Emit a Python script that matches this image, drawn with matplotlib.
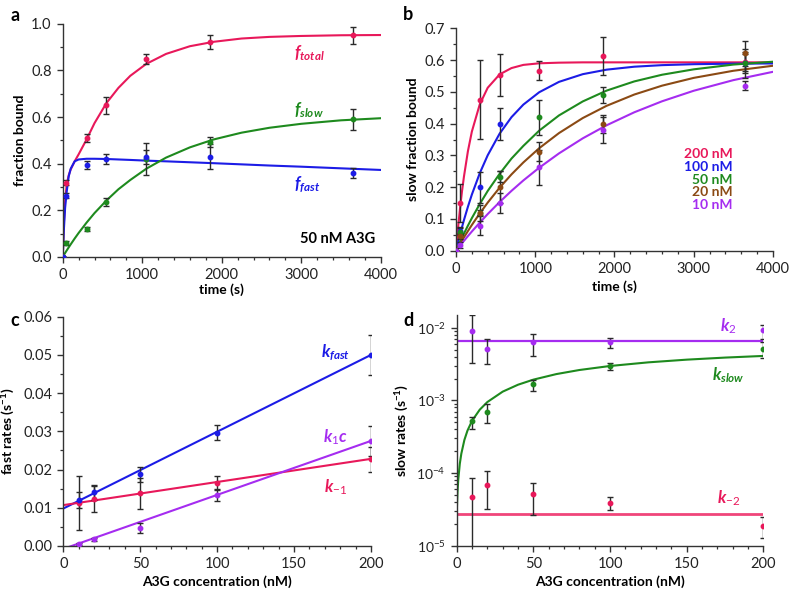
# Kinetics of A3G binding: fraction bound vs time and fitted rates vs concentration

import numpy as np
import matplotlib
matplotlib.use("Agg")
from matplotlib import pyplot as plt
from matplotlib.ticker import MultipleLocator, LogLocator, NullFormatter, FormatStrFormatter

plt.rcParams["font.family"] = ["Lato", "DejaVu Sans"]
plt.rcParams["mathtext.fontset"] = "custom"
plt.rcParams["mathtext.rm"] = "Lato"
plt.rcParams["mathtext.it"] = "Lato:italic:bold"
plt.rcParams["mathtext.bf"] = "Lato:bold"

RED = "#e8185a"
BLUE = "#1c1ce6"
GREEN = "#1e8a1e"
BROWN = "#8b4a14"
PURPLE = "#a52cf0"
PINK = "#f0457a"
ERR = "#2a2a2a"

# ---------------- panel a: 50 nM A3G ----------------
t_pts = [0, 45, 300, 540, 1050, 1850, 3650]
a_total = [0, 0.318, 0.510, 0.650, 0.850, 0.920, 0.950]
a_total_err = [0, 0.010, 0.019, 0.036, 0.022, 0.030, 0.038]
a_fast = [0, 0.262, 0.393, 0.420, 0.430, 0.430, 0.360]
a_fast_err = [0, 0.010, 0.017, 0.020, 0.030, 0.053, 0.022]
a_slow = [0, 0.060, 0.119, 0.235, 0.420, 0.493, 0.590]
a_slow_err = [0, 0.010, 0.008, 0.018, 0.067, 0.020, 0.046]

# fitted curves
t_fit = [0, 15, 30, 50, 75, 100, 150, 200, 300, 400, 550, 700, 850, 1050,
         1300, 1600, 1900, 2250, 2600, 3000, 3500, 4000]
fit_total = [0, 0.15, 0.24, 0.31, 0.35, 0.375, 0.41, 0.44, 0.504, 0.574, 0.66,
             0.725, 0.777, 0.828, 0.871, 0.904, 0.923, 0.937, 0.944, 0.948, 0.951, 0.952]
fit_fast = [0, 0.12, 0.21, 0.28, 0.345, 0.378, 0.41, 0.418, 0.421, 0.421, 0.420,
            0.418, 0.416, 0.413, 0.410, 0.406, 0.402, 0.397, 0.392, 0.387, 0.380, 0.373]
fit_slow = [0, 0.0084, 0.0166, 0.0275, 0.0407, 0.0536, 0.0787, 0.1026, 0.147, 0.188,
            0.242, 0.290, 0.330, 0.378, 0.426, 0.470, 0.504, 0.533, 0.554, 0.571, 0.586, 0.595]

# ---------------- panel b: slow fraction at several concentrations ----------------
b_labels = ["200 nM", "100 nM", "50 nM", "20 nM", "10 nM"]
b_colors = [RED, BLUE, GREEN, BROWN, PURPLE]
b_t = [
    [0, 45, 300, 550, 1050, 1850, 3650],
    [0, 45, 300, 550, 3650],
    [0, 45, 300, 550, 1050, 1850, 3650],
    [0, 45, 300, 550, 1050, 1850, 3650],
    [0, 45, 300, 550, 1050, 1850, 3650],
]
b_y = [
    [0, 0.149, 0.476, 0.553, 0.567, 0.613, 0.595],
    [0, 0.063, 0.199, 0.400, 0.590],
    [0, 0.060, 0.119, 0.233, 0.420, 0.490, 0.590],
    [0, 0.046, 0.120, 0.200, 0.312, 0.400, 0.621],
    [0, 0.018, 0.079, 0.151, 0.262, 0.380, 0.520],
]
b_err = [
    [0, 0.060, 0.125, 0.066, 0.030, 0.060, 0.030],
    [0, 0.010, 0.050, 0.050, 0.030],
    [0, 0.010, 0.008, 0.018, 0.055, 0.025, 0.046],
    [0, 0.010, 0.025, 0.050, 0.030, 0.028, 0.040],
    [0, 0.008, 0.030, 0.032, 0.055, 0.040, 0.015],
]
b_fit = [
    [0, 0.0429, 0.0825, 0.131, 0.186, 0.233, 0.313, 0.375, 0.461, 0.513, 0.555,
     0.575, 0.585, 0.590, 0.592, 0.593, 0.593, 0.593, 0.593, 0.593, 0.593, 0.593],
    [0, 0.0155, 0.0307, 0.0503, 0.0736, 0.0962, 0.1382, 0.1767, 0.2441, 0.3005, 0.3684,
     0.4204, 0.4600, 0.4989, 0.5316, 0.5558, 0.570, 0.5793, 0.5842, 0.5872, 0.5888, 0.5895],
    fit_slow,
    [0, 0.0065, 0.0129, 0.0213, 0.0317, 0.0420, 0.0617, 0.0810, 0.1174, 0.1514, 0.1983,
     0.2402, 0.2779, 0.3227, 0.3704, 0.4177, 0.4561, 0.4917, 0.5196, 0.5441, 0.5665, 0.5823],
    [0, 0.0047, 0.0094, 0.0157, 0.0234, 0.0309, 0.0459, 0.0604, 0.0884, 0.1154, 0.1531,
     0.1884, 0.2212, 0.2613, 0.3064, 0.3538, 0.3948, 0.4358, 0.4704, 0.5036, 0.5370, 0.5632],
]
b_label_y = [0.304, 0.264, 0.224, 0.184, 0.144]

# ---------------- panel c: fast rates ----------------
conc = [10, 20, 50, 100, 200]
k_fast = [0.0120, 0.0140, 0.0188, 0.0297, 0.0500]
k_fast_err = [0.0020, 0.0020, 0.0020, 0.0020, 0.0052]
k_m1 = [0.0113, 0.0123, 0.0138, 0.0165, 0.0227]
k_m1_err = [0.0070, 0.0035, 0.0040, 0.0018, 0.0033]
k1c = [0.0006, 0.0017, 0.0048, 0.0133, 0.0275]
k1c_err = [0.0003, 0.0003, 0.0013, 0.0015, 0.0039]
line_x = [0, 200]
line_fast = [0.0098, 0.0500]
line_m1 = [0.0107, 0.0228]
line_k1c = [-0.00076, 0.0275]

# ---------------- panel d: slow rates ----------------
k2 = [0.0091, 0.00514, 0.0063, 0.0064, 0.0092]
k2_lo = [0.00327, 0.00314, 0.00408, 0.0053, 0.0071]
k2_hi = [0.0148, 0.00706, 0.0083, 0.0072, 0.0111]
k_slow = [0.000514, 0.000698, 0.00167, 0.00294, 0.0051]
k_slow_lo = [0.000399, 0.00049, 0.00134, 0.0026, 0.0039]
k_slow_hi = [0.000596, 0.00089, 0.0019, 0.00327, 0.0064]
k_m2 = [4.63e-5, 6.84e-5, 5.08e-5, 3.9e-5, 1.88e-5]
k_m2_lo = [1e-6, 3.16e-5, 2.64e-5, 3.06e-5, 1.26e-5]
k_m2_hi = [8.6e-5, 1.06e-4, 7.4e-5, 4.66e-5, 2.5e-5]
k2_line = 0.00656
k_m2_line = 2.72e-5
c_fit = [0, 0.5, 1, 2, 3, 5, 7, 10, 15, 20, 30, 40, 50, 65, 80, 100, 125, 150, 175, 200]
k_slow_fit = [2.8e-5, 5.48e-5, 8.13e-5, 1.34e-4, 1.85e-4, 2.86e-4, 3.84e-4, 5.25e-4,
              7.46e-4, 9.52e-4, 1.323e-3, 1.648e-3, 1.935e-3, 2.308e-3, 2.626e-3,
              2.983e-3, 3.348e-3, 3.646e-3, 3.893e-3, 4.103e-3]


def style(ax):
    for s in ["top", "right"]:
        ax.spines[s].set_visible(False)
    for s in ["left", "bottom"]:
        ax.spines[s].set_color("#333333")
        ax.spines[s].set_linewidth(1.0)
    ax.tick_params(which="major", direction="out", length=4.5, width=1,
                   colors="#333333", labelsize=10.5, labelcolor="#222222")
    ax.tick_params(which="minor", direction="out", length=2.5, width=0.9, colors="#333333")


def points(ax, x, y, err, color):
    ax.errorbar(x, y, yerr=err, fmt="o", color=color, ms=3.2, mec=color,
                ecolor=ERR, elinewidth=1.0, capsize=2, capthick=1.0, zorder=3)


fig = plt.figure(figsize=(7.95, 5.96), dpi=100)

# panel a
ax = fig.add_axes([0.0789, 0.569, 0.400, 0.391])
ax.plot(t_fit, fit_total, color=RED, lw=1.5, zorder=2)
ax.plot(t_fit, fit_fast, color=BLUE, lw=1.5, zorder=2)
ax.plot(t_fit, fit_slow, color=GREEN, lw=1.5, zorder=2)
points(ax, t_pts, a_total, a_total_err, RED)
points(ax, t_pts, a_slow, a_slow_err, GREEN)
points(ax, t_pts, a_fast, a_fast_err, BLUE)
ax.set_xlim(0, 4000)
ax.set_ylim(0, 1.0)
ax.xaxis.set_major_locator(MultipleLocator(1000))
ax.xaxis.set_minor_locator(MultipleLocator(200))
ax.yaxis.set_major_locator(MultipleLocator(0.2))
ax.yaxis.set_minor_locator(MultipleLocator(0.1))
ax.yaxis.set_major_formatter(FormatStrFormatter("%.1f"))
style(ax)
ax.set_xlabel("time (s)", fontweight="bold", fontsize=10, labelpad=1)
ax.set_ylabel("fraction bound", fontweight="bold", fontsize=10, labelpad=4)
ax.text(3100, 0.875, r"$f_{total}$", color=RED, fontsize=12, ha="center", va="center")
ax.text(3100, 0.63, r"$f_{slow}$", color=GREEN, fontsize=12, ha="center", va="center")
ax.text(3080, 0.31, r"$f_{fast}$", color=BLUE, fontsize=12, ha="center", va="center")
ax.text(3930, 0.077, "50 nM A3G", fontsize=10.5, fontweight="bold", ha="right", va="center")
fig.text(0.013, 0.974, "a", fontsize=13, fontweight="bold", va="center")

# panel b
ax = fig.add_axes([0.5736, 0.5794, 0.3987, 0.373])
for tt, yy, ee, ff, col in zip(b_t, b_y, b_err, b_fit, b_colors):
    ax.plot(t_fit, ff, color=col, lw=1.5, zorder=2)
for tt, yy, ee, ff, col in zip(b_t, b_y, b_err, b_fit, b_colors):
    points(ax, tt, yy, ee, col)
for lab, ly, col in zip(b_labels, b_label_y, b_colors):
    ax.text(3490, ly, lab, color=col, fontsize=10, fontweight="bold", ha="right", va="center")
ax.set_xlim(0, 4000)
ax.set_ylim(0, 0.7)
ax.xaxis.set_major_locator(MultipleLocator(1000))
ax.xaxis.set_minor_locator(MultipleLocator(200))
ax.yaxis.set_major_locator(MultipleLocator(0.1))
ax.yaxis.set_minor_locator(MultipleLocator(0.05))
ax.yaxis.set_major_formatter(FormatStrFormatter("%.1f"))
style(ax)
ax.set_xlabel("time (s)", fontweight="bold", fontsize=10, labelpad=3)
ax.set_ylabel("slow fraction bound", fontweight="bold", fontsize=10, labelpad=4)
fig.text(0.507, 0.975, "b", fontsize=13, fontweight="bold", va="center")

# panel c
ax = fig.add_axes([0.0796, 0.0839, 0.387, 0.3847])
ax.plot(line_x, line_fast, color=BLUE, lw=1.5, zorder=2)
ax.plot(line_x, line_m1, color=RED, lw=1.5, zorder=2)
ax.plot(line_x, line_k1c, color=PURPLE, lw=1.5, zorder=2)
points(ax, conc, k_m1, k_m1_err, RED)
points(ax, conc, k1c, k1c_err, PURPLE)
points(ax, conc, k_fast, k_fast_err, BLUE)
ax.set_xlim(0, 200)
ax.set_ylim(0, 0.06)
ax.xaxis.set_major_locator(MultipleLocator(50))
ax.xaxis.set_minor_locator(MultipleLocator(10))
ax.yaxis.set_major_locator(MultipleLocator(0.01))
ax.yaxis.set_minor_locator(MultipleLocator(0.005))
ax.yaxis.set_major_formatter(FormatStrFormatter("%.2f"))
style(ax)
ax.set_xlabel("A3G concentration (nM)", fontweight="bold", fontsize=10, labelpad=3)
ax.set_ylabel(r"fast rates (s$^{\mathbf{-1}}$)", fontweight="bold", fontsize=10, labelpad=4)
ax.text(177, 0.0505, r"$\mathit{k_{fast}}$", color=BLUE, fontsize=12, ha="center", va="center")
ax.text(177, 0.0285, r"$\mathit{k_{1}c}$", color=PURPLE, fontsize=12, ha="center", va="center")
ax.text(177, 0.0155, r"$\mathit{k_{-1}}$", color=RED, fontsize=12, ha="center", va="center")
fig.text(0.013, 0.462, "c", fontsize=13, fontweight="bold", va="center")

# panel d
ax = fig.add_axes([0.5745, 0.0844, 0.3857, 0.387])
ax.set_yscale("log")
ax.plot(line_x, [k2_line, k2_line], color=PURPLE, lw=1.6, zorder=2)
ax.plot(line_x, [k_m2_line, k_m2_line], color=PINK, lw=2.0, zorder=2)
ax.plot(c_fit, k_slow_fit, color=GREEN, lw=1.5, zorder=2)
for yy, lo, hi, col in [(k2, k2_lo, k2_hi, PURPLE), (k_slow, k_slow_lo, k_slow_hi, GREEN),
                        (k_m2, k_m2_lo, k_m2_hi, RED)]:
    yerr = [np.array(yy) - np.array(lo), np.array(hi) - np.array(yy)]
    points(ax, conc, yy, yerr, col)
ax.set_xlim(0, 200)
ax.set_ylim(1e-5, 1.5e-2)
ax.xaxis.set_major_locator(MultipleLocator(50))
ax.xaxis.set_minor_locator(MultipleLocator(10))
ax.yaxis.set_major_locator(LogLocator(base=10, numticks=10))
ax.yaxis.set_minor_locator(LogLocator(base=10, subs=np.arange(2, 10), numticks=10))
ax.yaxis.set_minor_formatter(NullFormatter())
style(ax)
ax.tick_params(axis="y", which="major", labelsize=10)
ax.set_xlabel("A3G concentration (nM)", fontweight="bold", fontsize=10, labelpad=3)
ax.set_ylabel(r"slow rates (s$^{\mathbf{-1}}$)", fontweight="bold", fontsize=10, labelpad=4)
ax.text(177, 0.0107, r"$\mathit{k_{2}}$", color=PURPLE, fontsize=12, ha="center", va="center")
ax.text(177, 0.00221, r"$\mathit{k_{slow}}$", color=GREEN, fontsize=12, ha="center", va="center")
ax.text(177, 4.5e-5, r"$\mathit{k_{-2}}$", color=RED, fontsize=12, ha="center", va="center")
fig.text(0.507, 0.462, "d", fontsize=13, fontweight="bold", va="center")

plt.savefig("out.png", dpi=100)
